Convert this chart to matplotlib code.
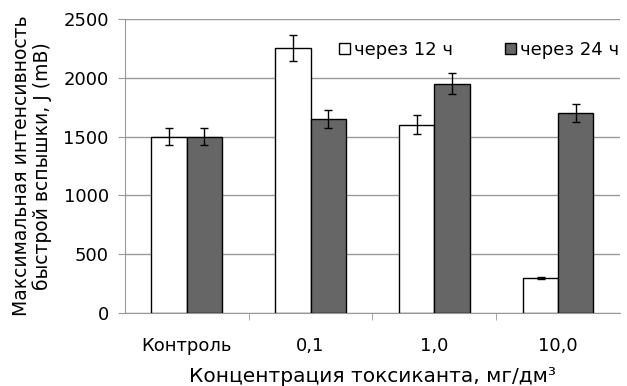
import matplotlib.pyplot as plt
import numpy as np

plt.rcParams['font.family'] = ['DejaVu Sans']

categories = ["Контроль", "0,1", "1,0", "10,0"]
vals_12 = [1500, 2250, 1600, 300]
err_12 = [70, 110, 80, 10]
vals_24 = [1500, 1650, 1950, 1700]
err_24 = [70, 80, 90, 80]

fig = plt.figure(figsize=(6.27, 3.86), dpi=100)
ax = fig.add_axes([0.199, 0.189, 0.79, 0.762])

x = np.arange(len(categories))
w = 0.285
ax.bar(x - w / 2, vals_12, w, yerr=err_12, color="white", edgecolor="black",
       linewidth=1, capsize=3, error_kw=dict(elinewidth=1, capthick=1),
       label="через 12 ч", zorder=3)
ax.bar(x + w / 2, vals_24, w, yerr=err_24, color="#666666", edgecolor="black",
       linewidth=1, capsize=3, error_kw=dict(elinewidth=1, capthick=1),
       label="через 24 ч", zorder=3)

ax.set_xlim(-0.5, len(categories) - 0.5)
ax.set_ylim(0, 2500)
ax.set_yticks(np.arange(0, 2501, 500))
ax.yaxis.grid(True, color="#999999", linewidth=1, zorder=0)
ax.set_axisbelow(True)

ax.set_xticks(x)
ax.set_xticklabels(categories, fontsize=13)
ax.tick_params(axis="x", length=0, pad=17)
ax.set_xticks(np.arange(0.5, len(categories) - 1, 1), minor=True)
ax.tick_params(axis="x", which="minor", length=5, color="#999999")
ax.tick_params(axis="y", labelsize=13, length=5, color="#999999", pad=6.5)

for s in ["top", "right"]:
    ax.spines[s].set_visible(False)
ax.spines["left"].set_color("#999999")
ax.spines["bottom"].set_color("#999999")

ax.set_xlabel("Концентрация токсиканта, мг/дм³", fontsize=14.5, labelpad=9)
ax.set_ylabel("Максимальная интенсивность\nбыстрой вспышки, J (mB)", fontsize=13.5,
              labelpad=8, linespacing=1.1)

ax.legend(loc="upper right", bbox_to_anchor=(1.03, 0.98), ncol=2, frameon=False,
          fontsize=13, handlelength=0.6, handleheight=0.6, handletextpad=0.2,
          columnspacing=2.9)

fig.savefig("out.png", dpi=100)
